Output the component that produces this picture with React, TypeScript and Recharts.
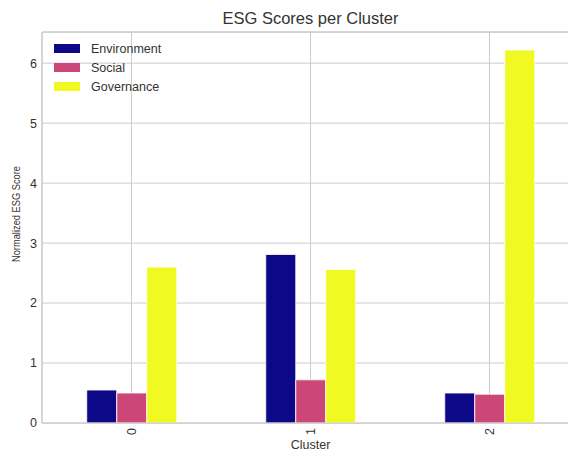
import React from 'react';
import {
  BarChart, Bar, XAxis, YAxis, CartesianGrid, Label, ReferenceLine
} from 'recharts';

const clusters = ['0', '1', '2'];
const environment = [0.55, 2.81, 0.5];
const social = [0.5, 0.72, 0.48];
const governance = [2.6, 2.56, 6.22];
const yTicks = [0, 1, 2, 3, 4, 5, 6];
const Y_MAX = 6.52;

const SERIES = [
  { key: 'Environment', color: '#0d0887' },
  { key: 'Social', color: '#cc4778' },
  { key: 'Governance', color: '#f0f921' },
];

const data = clusters.map((c, i) => ({
  cluster: c,
  Environment: environment[i],
  Social: social[i],
  Governance: governance[i],
}));

const FONT = '"Liberation Sans", Arial, sans-serif';
const TEXT = '#333333';
const GRID = '#cccccc';

const XTick = (props: any) => {
  const { x, y, payload } = props;
  return (
    <text
      x={x}
      y={y}
      transform={`rotate(-90 ${x} ${y})`}
      textAnchor="end"
      dominantBaseline="central"
      fontSize={12.5}
      fontFamily={FONT}
      fill={TEXT}
    >
      {payload.value}
    </text>
  );
};

// legend sits in the upper-left corner of the axes, like matplotlib's 'best'
const LegendBox = () => (
  <div style={{ position: 'absolute', left: 54, top: 39, fontFamily: FONT, fontSize: 12.5, color: TEXT }}>
    {SERIES.map((s) => (
      <div key={s.key} style={{ display: 'flex', alignItems: 'center', height: 19 }}>
        <span style={{ display: 'inline-block', width: 26, height: 9, background: s.color, marginRight: 11 }} />
        <span>{s.key}</span>
      </div>
    ))}
  </div>
);

export default function App() {
  return (
    <div style={{ position: 'fixed', left: 0, top: 0, width: 568, height: 454, overflow: 'hidden', background: '#fff' }}>
      <BarChart
        width={590}
        height={454}
        data={data}
        margin={{ top: 32, right: 11, left: 0, bottom: 0 }}
        barCategoryGap="25%"
        barGap={0}
      >
        <CartesianGrid stroke={GRID} strokeWidth={1} />
        <ReferenceLine y={Y_MAX} stroke={GRID} strokeWidth={1.25} ifOverflow="visible" />
        <XAxis
          dataKey="cluster"
          height={31}
          tickLine={false}
          tickSize={0}
          tickMargin={5}
          axisLine={{ stroke: GRID, strokeWidth: 1.25 }}
          tick={<XTick />}
          interval={0}
        >
          <Label
            content={(p: any) => {
              const vb = p.viewBox || {};
              const cx = vb.x + vb.width / 2;
              return (
                <g>
                  <text x={cx} y={449} textAnchor="middle" fontSize={12.5} fontFamily={FONT} fill={TEXT}>
                    Cluster
                  </text>
                  <text x={cx} y={24} textAnchor="middle" fontSize={16.5} fontFamily={FONT} fill={TEXT}>
                    ESG Scores per Cluster
                  </text>
                </g>
              );
            }}
          />
        </XAxis>
        <YAxis
          width={42}
          domain={[0, Y_MAX]}
          ticks={yTicks}
          allowDataOverflow
          tickLine={false}
          tickSize={0}
          tickMargin={5}
          axisLine={{ stroke: GRID, strokeWidth: 1.25 }}
          tick={{ fontSize: 12.5, fontFamily: FONT, fill: TEXT }}
        >
          <Label
            content={() => (
              <text
                x={16}
                y={214}
                transform="rotate(-90 16 214)"
                textAnchor="middle"
                dominantBaseline="central"
                fontSize={11}
                fontFamily={FONT}
                fill={TEXT}
                textLength={96}
                lengthAdjust="spacingAndGlyphs"
              >
                Normalized ESG Score
              </text>
            )}
          />
        </YAxis>
        {SERIES.map((s) => (
          <Bar
            key={s.key}
            dataKey={s.key}
            fill={s.color}
            stroke="#ffffff"
            strokeWidth={0.8}
            isAnimationActive={false}
          />
        ))}
      </BarChart>
      <LegendBox />
    </div>
  );
}
